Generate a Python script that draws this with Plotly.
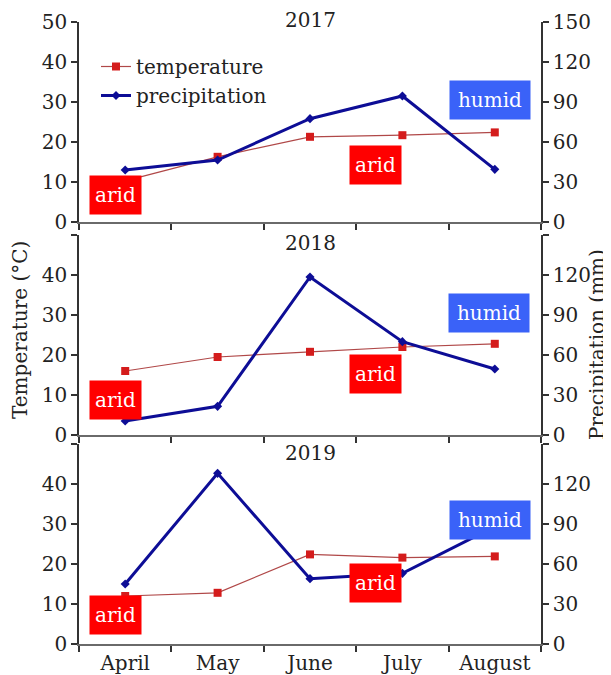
import plotly.graph_objects as go

months = ["April", "May", "June", "July", "August"]
years = ["2017", "2018", "2019"]
temp_2017 = [10.3, 16.3, 21.3, 21.7, 22.4]
temp_2018 = [16.0, 19.5, 20.8, 22.0, 22.8]
temp_2019 = [12.0, 12.8, 22.4, 21.6, 21.9]
prec_2017 = [39.0, 46.5, 77.5, 94.5, 39.5]
prec_2018 = [10.5, 21.5, 118.5, 70.0, 49.5]
prec_2019 = [45.0, 128.0, 49.0, 53.0, 88.0]
temps = [temp_2017, temp_2018, temp_2019]
precs = [prec_2017, prec_2018, prec_2019]

# page has an 8px body margin: figure div starts at (8, 8)
OFF = 8
W, H = 611 - OFF, 675 - OFF
PL, PR, PT, PB = 79, 541, 22, 644  # plot area in page pixels
ML, MT = PL - OFF, PT - OFF
MR = W - ML - (PR - PL)
MB = H - MT - (PB - PT)
PH = PB - PT
PW = PR - PL
panels_px = [(22, 222), (235, 435), (444, 644)]


def py(p):
    return (PB - p) / PH


def px(p):
    return (p - PL) / PW


FONT = "DejaVu Serif"
TXT = "#222222"
AX = "#333333"
TEMP_LINE = "#b04848"
TEMP_MARK = "#d41c1c"
PREC = "#0d0d96"

fig = go.Figure()
for i in range(3):
    fig.add_trace(go.Scatter(
        x=months, y=temps[i], name="temperature", mode="lines+markers",
        line=dict(color=TEMP_LINE, width=1.2),
        marker=dict(symbol="square", size=8, color=TEMP_MARK),
        xaxis=f"x{i+1}", yaxis=f"y{2*i+1}", showlegend=(i == 0)))
for i in range(3):
    fig.add_trace(go.Scatter(
        x=months, y=precs[i], name="precipitation", mode="lines+markers",
        line=dict(color=PREC, width=3),
        marker=dict(symbol="diamond", size=7, color=PREC),
        xaxis=f"x{i+1}", yaxis=f"y{2*i+2}", showlegend=(i == 0)))

layout = dict(
    width=W, height=H,
    margin=dict(l=ML, r=MR, t=MT, b=MB, autoexpand=False),
    paper_bgcolor="white", plot_bgcolor="white",
    font=dict(family=FONT, size=20, color=TXT),
    legend=dict(x=px(96), y=py(47), xanchor="left", yanchor="top",
                bgcolor="rgba(0,0,0,0)", font=dict(size=20, family=FONT),
                tracegroupgap=0, itemwidth=30),
    annotations=[],
)

left_ticks = [0, 10, 20, 30, 40, 50]
right_ticks = [0, 30, 60, 90, 120, 150]
for i in range(3):
    top, bot = panels_px[i]
    dom = [py(bot), py(top)]
    ltext = [str(v) for v in left_ticks]
    rtext = [str(v) for v in right_ticks]
    if i > 0:
        ltext[-1] = ""
        rtext[-1] = ""
    layout[f"xaxis{i+1}"] = dict(
        type="category", categoryorder="array", categoryarray=months,
        range=[-0.5, 4.5], domain=[0, 1], anchor=f"y{2*i+1}",
        showline=True, linecolor="#6a6a6a", linewidth=2,
        ticks="outside", tickson="boundaries", ticklen=6, tickcolor=AX, tickwidth=1.5,
        showgrid=False, zeroline=False,
        showticklabels=(i == 2), tickfont=dict(size=20, family=FONT, color=TXT))
    layout[f"yaxis{2*i+1}"] = dict(
        domain=dom, anchor=f"x{i+1}", range=[0, 50],
        tickvals=left_ticks, ticktext=ltext, ticks="outside", ticklen=6,
        tickcolor=AX, tickwidth=1.5, showline=True, linecolor=AX, linewidth=1.5,
        showgrid=False, zeroline=False, tickfont=dict(size=20, family=FONT, color=TXT))
    layout[f"yaxis{2*i+2}"] = dict(
        domain=dom, anchor=f"x{i+1}", overlaying=f"y{2*i+1}", side="right",
        range=[0, 150],
        tickvals=right_ticks, ticktext=rtext, ticks="outside", ticklen=6,
        tickcolor=AX, tickwidth=1.5, showline=True, linecolor=AX, linewidth=1.5,
        showgrid=False, zeroline=False, tickfont=dict(size=20, family=FONT, color=TXT))

ann = layout["annotations"]
year_y = [20, 243, 453]
for i, yr in enumerate(years):
    ann.append(dict(text=yr, xref="paper", yref="paper", x=px(310), y=py(year_y[i]),
                    xanchor="center", yanchor="middle", showarrow=False,
                    font=dict(size=20, family=FONT, color=TXT)))

ARID = "#ff0000"
HUMID = "#3a62f8"
boxes = [
    ("arid", 115.5, 195, 51, ARID), ("arid", 375.5, 164.5, 51, ARID), ("humid", 490, 100, 80, HUMID),
    ("arid", 115.5, 400, 51, ARID), ("arid", 375.5, 373.5, 51, ARID), ("humid", 489, 312.5, 80, HUMID),
    ("arid", 115.5, 614.5, 51, ARID), ("arid", 375.5, 582.5, 51, ARID), ("humid", 490, 519.5, 80, HUMID),
]
for t, cx, cy, w, c in boxes:
    ann.append(dict(text=t, xref="paper", yref="paper", x=px(cx), y=py(cy),
                    xanchor="center", yanchor="middle", showarrow=False,
                    width=w, height=38, bgcolor=c, borderpad=0,
                    font=dict(size=20, family=FONT, color="white")))

ann.append(dict(text="Temperature (°C)", xref="paper", yref="paper", x=px(20), y=py(330),
                xanchor="center", yanchor="middle", textangle=-90, showarrow=False,
                font=dict(size=20, family=FONT, color=TXT)))
ann.append(dict(text="Precipitation (mm)", xref="paper", yref="paper", x=px(597), y=py(345),
                xanchor="center", yanchor="middle", textangle=-90, showarrow=False,
                font=dict(size=20, family=FONT, color=TXT)))

fig.update_layout(**layout)
fig.write_html("out.html")
